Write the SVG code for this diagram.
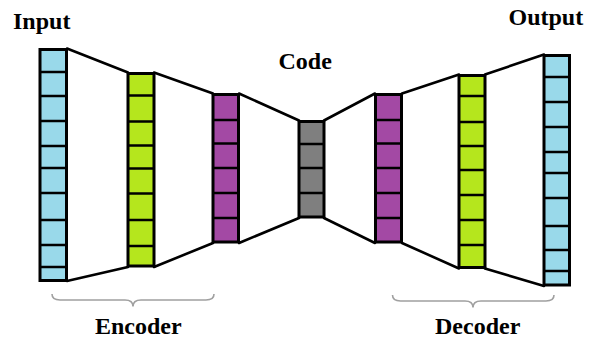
<svg xmlns="http://www.w3.org/2000/svg" width="591" height="339" viewBox="0 0 591 339">
<style>
.col{stroke:#000;stroke-width:3}
.div{stroke:#000;stroke-width:2.6}
.blue{fill:#99d9ea}
.green{fill:#b5e61d}
.purple{fill:#a349a4}
.gray{fill:#7f7f7f}
.conn{stroke:#000;stroke-width:2.6;fill:none;stroke-linecap:round}
.brace{stroke:#a0a0a0;stroke-width:1.6;fill:none}
.lbl{font-family:"Liberation Serif","Times New Roman",serif;font-weight:bold;font-size:24px;fill:#000}
</style>
<rect width="591" height="339" fill="#fff"/>
<g id="connectors">
<line class="conn" x1="67" y1="48.5" x2="128" y2="72.5"/>
<line class="conn" x1="67" y1="281" x2="128" y2="267"/>
<line class="conn" x1="154" y1="72.5" x2="213" y2="93.5"/>
<line class="conn" x1="154" y1="267" x2="213" y2="243"/>
<line class="conn" x1="239" y1="93.5" x2="299" y2="120.5"/>
<line class="conn" x1="239" y1="243" x2="299" y2="218"/>
<line class="conn" x1="324" y1="120.5" x2="375" y2="93.5"/>
<line class="conn" x1="324" y1="218" x2="375" y2="243"/>
<line class="conn" x1="402" y1="93.5" x2="459" y2="74.5"/>
<line class="conn" x1="402" y1="243" x2="459" y2="268.5"/>
<line class="conn" x1="485" y1="74.5" x2="544" y2="54.5"/>
<line class="conn" x1="485" y1="268.5" x2="544" y2="286"/>
</g>
<g id="input">
<rect class="col blue" x="40" y="49.5" width="26.5" height="231"/>
<path class="div" d="M40 72H66.5M40 96H66.5M40 121H66.5M40 146H66.5M40 168H66.5M40 193H66.5M40 220H66.5M40 245H66.5M40 267H66.5"/>
</g>
<g id="encoder1">
<rect class="col green" x="128" y="73.5" width="26" height="192.5"/>
<path class="div" d="M128 95.5H154M128 121.5H154M128 145.5H154M128 168.5H154M128 193.5H154M128 220H154M128 246H154"/>
</g>
<g id="encoder2">
<rect class="col purple" x="213" y="94.5" width="25.5" height="147.5"/>
<path class="div" d="M213 120H238.5M213 143.5H238.5M213 168H238.5M213 193H238.5M213 218H238.5"/>
</g>
<g id="code">
<rect class="col gray" x="299" y="121.5" width="25" height="95.5"/>
<path class="div" d="M299 144H324M299 168H324M299 193H324"/>
</g>
<g id="decoder1">
<rect class="col purple" x="375.5" y="94.5" width="26" height="147.5"/>
<path class="div" d="M375.5 120H401.5M375.5 143.5H401.5M375.5 168H401.5M375.5 193H401.5M375.5 218H401.5"/>
</g>
<g id="decoder2">
<rect class="col green" x="459" y="75.5" width="26" height="192"/>
<path class="div" d="M459 96H485M459 122H485M459 146H485M459 170H485M459 195H485M459 220H485M459 245H485"/>
</g>
<g id="output">
<rect class="col blue" x="544" y="55.5" width="25.5" height="229.5"/>
<path class="div" d="M544 77H569.5M544 102H569.5M544 127H569.5M544 152H569.5M544 173H569.5M544 198H569.5M544 226H569.5M544 250H569.5M544 271H569.5"/>
</g>
<g id="braces">
<path class="brace" d="M52 294Q52 300 60 300L125 300Q133 300 133 306.5Q133 300 141 300L206 300Q214 300 214 294"/>
<path class="brace" d="M392.5 295Q392.5 301 400.5 301L465 301Q473 301 473 307.5Q473 301 481 301L546 301Q554 301 554 295"/>
</g>
<g id="labels">
<text class="lbl" x="13" y="29">Input</text>
<text class="lbl" x="278.5" y="69">Code</text>
<text class="lbl" x="508.5" y="25">Output</text>
<text class="lbl" x="95" y="334">Encoder</text>
<text class="lbl" x="435" y="334">Decoder</text>
</g>
</svg>
